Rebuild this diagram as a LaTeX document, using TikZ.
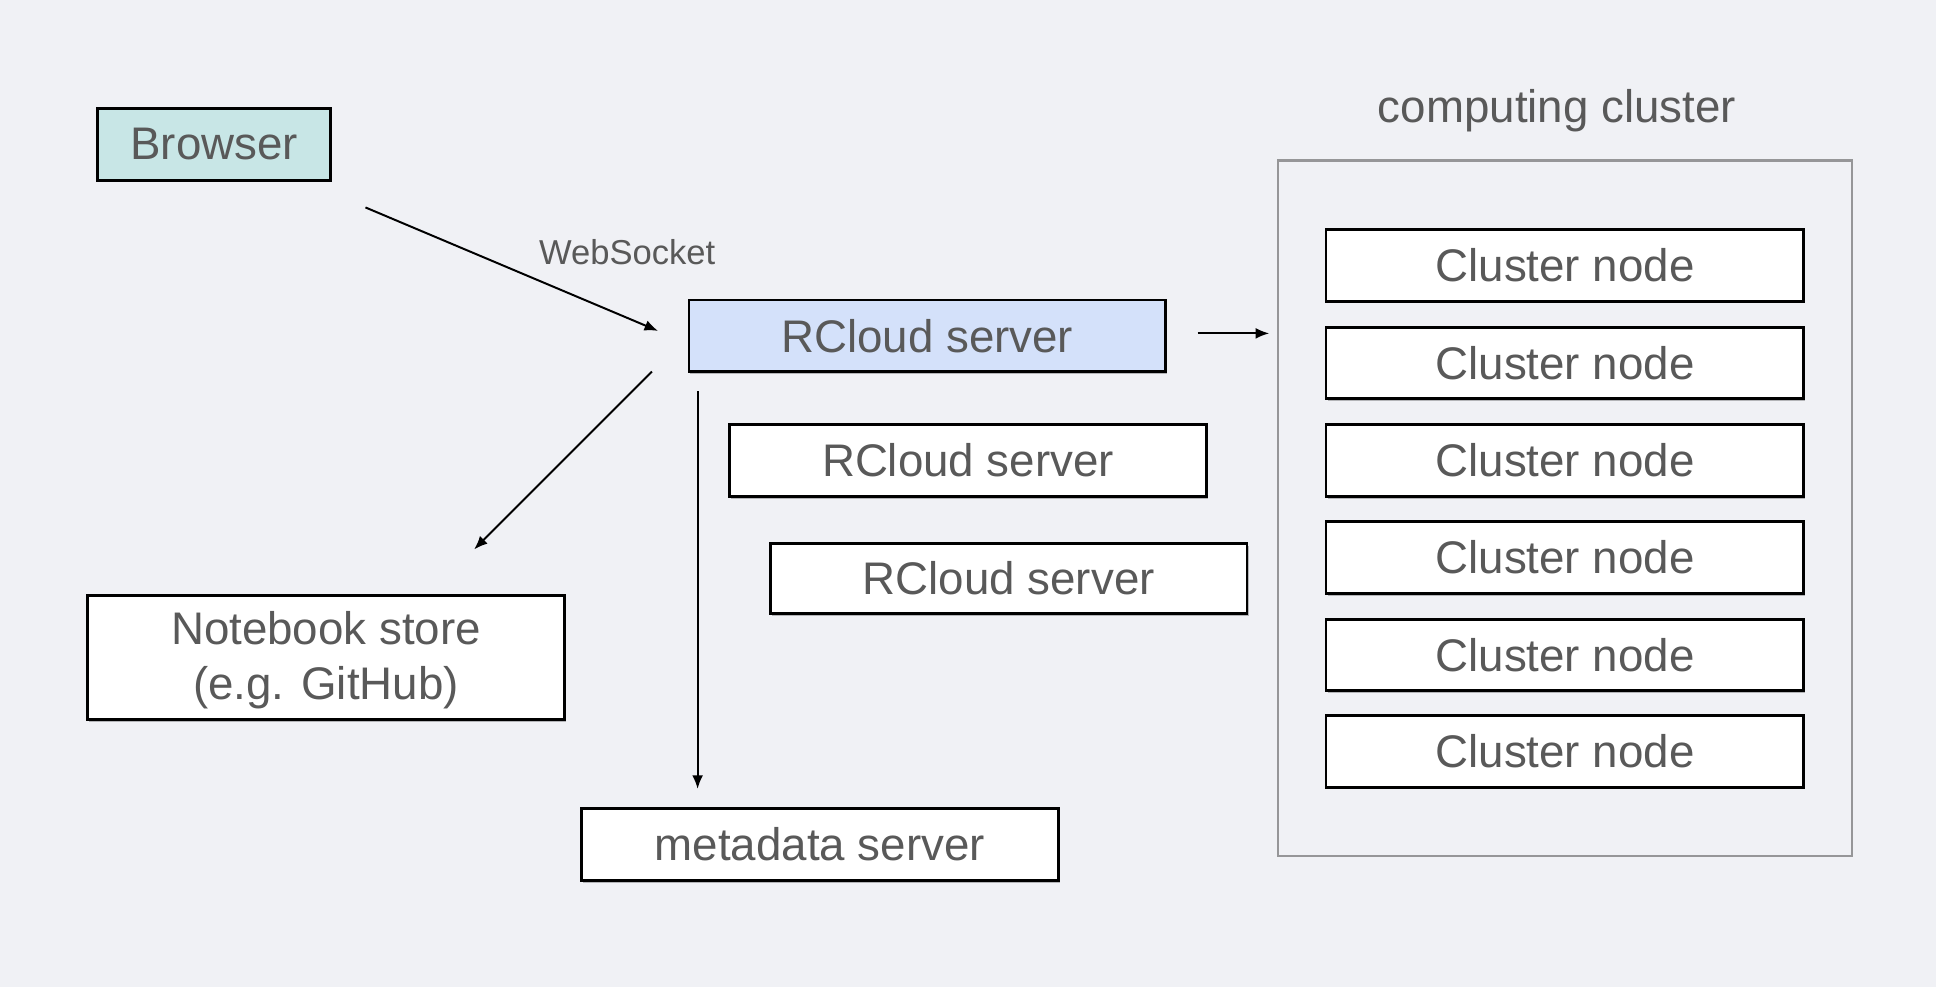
\documentclass[tikz,border=0pt]{standalone}
\usepackage{fontspec}
\setmainfont{Liberation Sans}
\usetikzlibrary{arrows.meta,shadows}
\definecolor{bgcol}{RGB}{240,241,245}
\definecolor{txtcol}{RGB}{89,89,89}
\definecolor{browsercol}{RGB}{200,230,230}
\definecolor{rcloudcol}{RGB}{212,225,250}
\definecolor{clustercol}{RGB}{150,150,152}
\tikzset{
  box/.style={draw=black, line width=1.15pt, fill=white, text=txtcol,
    inner sep=0pt, align=center, font=\fontsize{18.5}{22}\selectfont,
    drop shadow={shadow xshift=0.6pt, shadow yshift=-0.9pt, opacity=0.25, fill=black}},
  conn/.style={line width=0.8pt, -{Latex[length=5.5pt,width=4.4pt]}},
  lbl/.style={text=txtcol, inner sep=0pt},
}
\begin{document}
\begin{tikzpicture}[x=0.5pt, y=-0.5pt]
\useasboundingbox (0,0) rectangle (1568,799);
\fill[bgcol] (0,0) rectangle (1568,799);

% computing cluster frame
\draw[clustercol, line width=0.9pt] (1035,130) rectangle (1500,693);
\node[lbl, font=\fontsize{18.5}{22}\selectfont] (cclabel) at (1261,90) {computing cluster};

% boxes
\node[box, fill=browsercol, minimum width=94.5pt, minimum height=29pt] (browser) at (173.5,117) {Browser};
\node[box, fill=rcloudcol, minimum width=193pt, minimum height=29pt] (rc1) at (751,272) {RCloud server};
\node[box, minimum width=193pt, minimum height=29pt] (rc2) at (784,373) {RCloud server};
\node[box, minimum width=193pt, minimum height=28.5pt] (rc3) at (817,468.5) {RCloud server};
\node[box, minimum width=193pt, minimum height=50.5pt] (nb) at (264,532.5) {\rule{0pt}{15.5pt}Notebook store\\(e.g. GitHub)};
\node[box, minimum width=193pt, minimum height=29pt] (meta) at (664,684) {metadata server};

\foreach \i/\y in {1/215,2/294,3/373,4/451.5,5/530.5,6/608.5}{
  \node[box, minimum width=193.5pt, minimum height=29pt] (cn\i) at (1267.5,\y) {Cluster node};
}

% connector endpoints
\coordinate (wsA) at (296,168);
\coordinate (wsB) at (533,268);
\coordinate (rA) at (970,270);
\coordinate (rB) at (1028,270);
\coordinate (dA) at (528,301);
\coordinate (dB) at (384,445);
\coordinate (vA) at (565,317);
\coordinate (vB) at (565,639);

\draw[conn] (wsA) -- (wsB);
\node[lbl, font=\fontsize{14}{16}\selectfont] (ws) at (508,204) {WebSocket};
\draw[conn] (rA) -- (rB);
\draw[conn] (dA) -- (dB);
\draw[conn] (vA) -- (vB);
\end{tikzpicture}
\end{document}
